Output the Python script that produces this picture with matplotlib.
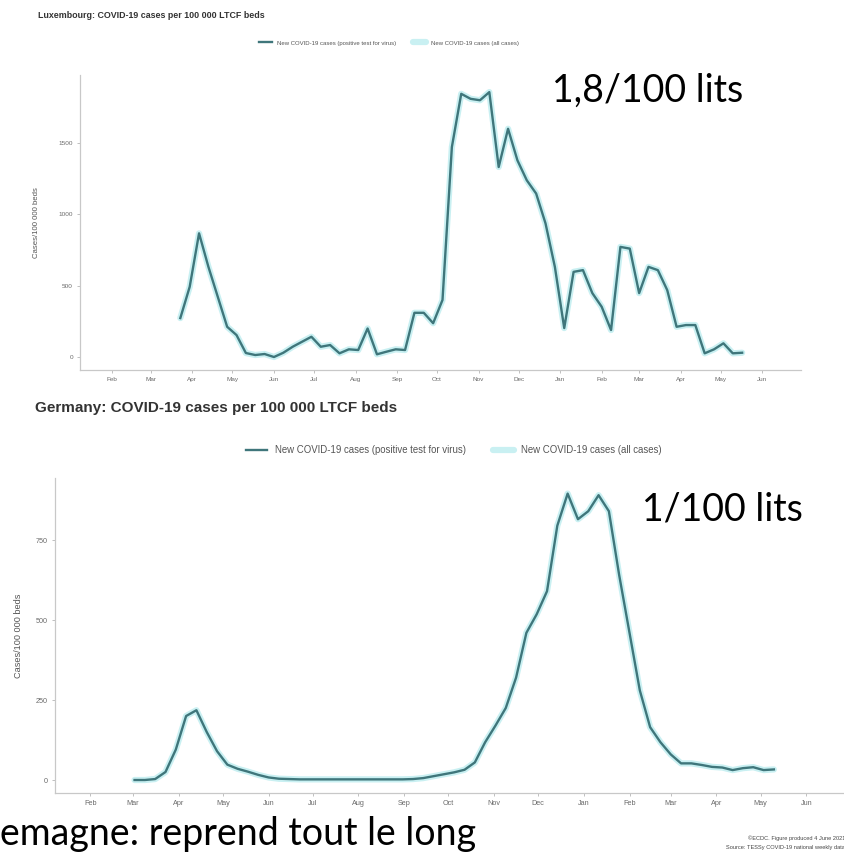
import matplotlib
matplotlib.use("Agg")
import matplotlib.pyplot as plt
import matplotlib.dates as mdates
import pandas as pd

# weekly LTCF case rates per 100 000 beds
lux_start = "2020-03-23"
lux_cases = [273, 492, 867, 632, 422, 212, 154, 28, 14, 21,
             0, 30, 72, 107, 142, 72, 84, 26,
             54, 49, 200, 19, 37, 54, 49, 310, 310, 237,
             400, 1472, 1845, 1810, 1800, 1857, 1332, 1600, 1379, 1239,
             1146, 937, 632, 203, 597, 609, 448, 352, 189, 772,
             760, 448, 632, 609, 469, 212, 224, 224, 26, 54,
             96, 26, 30]

de_start = "2020-03-02"
de_cases = [0, 0, 3, 25, 95, 200, 218, 150, 90, 48,
            35, 26, 16, 8, 4, 3, 2, 2, 2, 2,
            2, 2, 2, 2, 2, 2, 2, 3, 6, 12,
            18, 24, 32, 55, 118, 170, 225, 320, 460, 518,
            590, 795, 895, 815, 840, 890, 840, 640, 460, 280,
            165, 118, 80, 52, 52, 47, 41, 39, 31, 37,
            40, 31, 33]

month_ticks = pd.date_range("2020-02-01", "2021-06-01", freq="MS")
lux_yticks = [0, 500, 1000, 1500]
de_yticks = [0, 250, 500, 750]

label_pos = "New COVID-19 cases (positive test for virus)"
label_all = "New COVID-19 cases (all cases)"
ylab = "Cases/100 000 beds"

W, H = 845, 856
fig = plt.figure(figsize=(W / 100, H / 100), dpi=100)
plt.rcParams["font.family"] = ["Liberation Sans", "DejaVu Sans"]


def px_axes(left, top, right, bottom):
    return fig.add_axes([left / W, 1 - bottom / H, (right - left) / W, (bottom - top) / H])


def draw_panel(ax, start, vals, yticks, ylim, fs):
    dates = pd.date_range(start, periods=len(vals), freq="7D")
    h_all, = ax.plot(dates, vals, color="#c9f0f2", lw=4.5, solid_capstyle="round",
                     solid_joinstyle="round", label=label_all)
    h_pos, = ax.plot(dates, vals, color="#3f767b", lw=1.7, solid_joinstyle="round",
                     label=label_pos)
    ax.set_xlim(pd.Timestamp("2020-01-08"), pd.Timestamp("2021-06-30"))
    ax.set_ylim(*ylim)
    ax.set_xticks(month_ticks)
    ax.xaxis.set_major_formatter(mdates.DateFormatter("%b"))
    ax.set_yticks(yticks)
    for s in ["top", "right"]:
        ax.spines[s].set_visible(False)
    for s in ["left", "bottom"]:
        ax.spines[s].set_color("#c8c8c8")
        ax.spines[s].set_linewidth(0.9)
    ax.tick_params(length=2.5, width=0.6, color="#b5b5b5", labelsize=fs,
                   labelcolor="#6a6a6a", pad=2.5)
    return h_pos, h_all


# Luxembourg
ax_lu = px_axes(80, 75, 801, 370)
hp, ha = draw_panel(ax_lu, lux_start, lux_cases, lux_yticks, (-91, 1977), 4.6)
ax_lu.set_ylabel(ylab, fontsize=5.6, color="#555555")
ax_lu.yaxis.set_label_coords(-0.055, 0.5)
fig.text(38 / W, 1 - 15 / H, "Luxembourg: COVID-19 cases per 100 000 LTCF beds",
         fontsize=6.4, fontweight="bold", color="#333333", va="center")
fig.legend([hp, ha], [label_pos, label_all], loc="center", ncol=2,
           bbox_to_anchor=(389 / W, 1 - 43 / H), frameon=False, fontsize=4.3,
           handlelength=2.2, columnspacing=2.8, handletextpad=0.8, labelcolor="#555555")

# Germany
ax_de = px_axes(55, 478, 849, 793)
hp, ha = draw_panel(ax_de, de_start, de_cases, de_yticks, (-40.6, 943.75), 5.2)
ax_de.set_ylabel(ylab, fontsize=6.6, color="#555555")
ax_de.yaxis.set_label_coords(-0.04, 0.5)
fig.text(35 / W, 1 - 408 / H, "Germany: COVID-19 cases per 100 000 LTCF beds",
         fontsize=11.0, fontweight="bold", color="#333333", va="center")
fig.legend([hp, ha], [label_pos, label_all], loc="center", ncol=2,
           bbox_to_anchor=(454 / W, 1 - 450 / H), frameon=False, fontsize=6.9,
           handlelength=2.2, columnspacing=2.8, handletextpad=0.8, labelcolor="#555555")

# slide annotations
big = dict(family=["Lato", "DejaVu Sans"], fontsize=27, color="black", va="baseline")
fig.text(552 / W, 1 - 102 / H, "1,8/100 lits", **big)
fig.text(642 / W, 1 - 520 / H, "1/100 lits", **big)
fig.text(0.0, 1 - 845 / H, "emagne: reprend tout le long", **big)

fig.text(1.0, 1 - 838 / H, "\u00a9ECDC. Figure produced 4 June 2021",
         fontsize=4.1, color="#444444", ha="right", va="center")
fig.text(1.0, 1 - 847 / H, "Source: TESSy COVID-19 national weekly data",
         fontsize=4.1, color="#444444", ha="right", va="center")

fig.savefig("out.png", dpi=100)
